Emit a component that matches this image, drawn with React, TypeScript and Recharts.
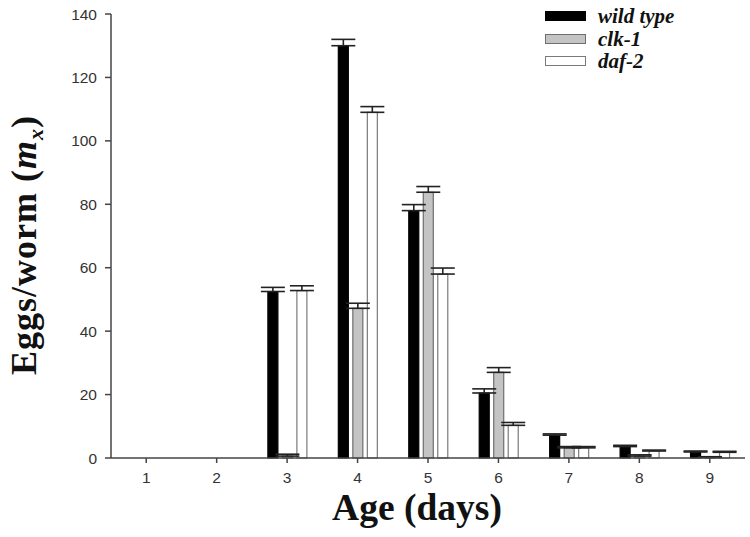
import React from 'react';
import { BarChart, Bar, XAxis, YAxis, ErrorBar } from 'recharts';

const days = ['1', '2', '3', '4', '5', '6', '7', '8', '9'];
const wildType = [0, 0, 52.5, 130, 78, 20.5, 7.2, 3.6, 1.9];
const wildTypeErr = [0, 0, 1.3, 2, 1.9, 1.3, 0.4, 0.4, 0.3];
const clk1 = [0, 0, 0.6, 47.2, 83.8, 27, 3.2, 0.6, 0.2];
const clk1Err = [0, 0, 0.6, 1.6, 1.8, 1.5, 0.4, 0.4, 0.2];
const daf2 = [0, 0, 52.8, 109, 58, 10.3, 3.2, 2.2, 1.8];
const daf2Err = [0, 0, 1.5, 1.8, 1.9, 0.9, 0.4, 0.3, 0.3];
const yTicks = [0, 20, 40, 60, 80, 100, 120, 140];

const seriesNames = ['wild type', 'clk-1', 'daf-2'];
const fills = ['#000000', '#c4c4c4', '#ffffff'];
const strokes = ['#000000', '#6e6e6e', '#7a7a7a'];

const data = days.map((d, i) => ({
  day: d,
  wt: wildType[i],
  wtErr: [0, wildTypeErr[i]],
  clk: clk1[i],
  clkErr: [0, clk1Err[i]],
  daf: daf2[i],
  dafErr: [0, daf2Err[i]],
}));

const axisColor = '#444';
const tickStyle = { fontFamily: 'Liberation Sans, Arial, sans-serif', fontSize: 15.5, fill: '#333' };

const YLabel = () => (
  <text
    transform="translate(36,245) rotate(-90)"
    textAnchor="middle"
    fontFamily="Liberation Serif, Times New Roman, serif"
    fontWeight="bold"
    fontSize={36}
    letterSpacing={1}
    fill="#111"
  >
    Eggs/worm (<tspan fontStyle="italic">m</tspan>
    <tspan fontStyle="italic" fontSize={22} dy={7}>x</tspan>
    <tspan dy={-7}>)</tspan>
  </text>
);

const XLabel = () => (
  <text
    x={417}
    y={520}
    textAnchor="middle"
    fontFamily="Liberation Serif, Times New Roman, serif"
    fontWeight="bold"
    fontSize={37.5}
    fill="#111"
  >
    Age (days)
  </text>
);

const LegendBox = () => (
  <div style={{ position: 'absolute', left: 545, top: 5 }}>
    {seriesNames.map((n, i) => (
      <div key={n} style={{ display: 'flex', alignItems: 'center', height: 22.5 }}>
        <div
          style={{
            width: 39,
            height: 8,
            background: fills[i],
            border: `1.5px solid ${strokes[i]}`,
            marginRight: 12,
          }}
        />
        <span
          style={{
            fontFamily: 'Liberation Serif, Times New Roman, serif',
            fontWeight: 'bold',
            fontStyle: 'italic',
            fontSize: 21,
            color: '#111',
            lineHeight: '20px',
          }}
        >
          {n}
        </span>
      </div>
    ))}
  </div>
);

export default function App() {
  return (
    <div style={{ position: 'absolute', left: 0, top: 0, width: 750, height: 537, background: '#fff' }}>
      <BarChart
        width={750}
        height={537}
        data={data}
        margin={{ top: 14, right: 5, bottom: 49, left: 0 }}
        barSize={10}
        barGap={4.5}
      >
        <XAxis
          dataKey="day"
          stroke={axisColor}
          strokeWidth={1.5}
          tickSize={5}
          tickMargin={9}
          tick={tickStyle}
          label={<XLabel />}
        />
        <YAxis
          width={111}
          domain={[0, 140]}
          ticks={yTicks}
          stroke={axisColor}
          strokeWidth={1.5}
          tickSize={6}
          tickMargin={8}
          tick={tickStyle}
          label={<YLabel />}
        />
        <Bar dataKey="wt" name="wild type" fill={fills[0]} stroke={strokes[0]} strokeWidth={1.2} isAnimationActive={false}>
          <ErrorBar dataKey="wtErr" width={12} stroke="#222" strokeWidth={1.6} direction="y" />
        </Bar>
        <Bar dataKey="clk" name="clk-1" fill={fills[1]} stroke={strokes[1]} strokeWidth={1.2} isAnimationActive={false}>
          <ErrorBar dataKey="clkErr" width={12} stroke="#222" strokeWidth={1.6} direction="y" />
        </Bar>
        <Bar dataKey="daf" name="daf-2" fill={fills[2]} stroke={strokes[2]} strokeWidth={1.2} isAnimationActive={false}>
          <ErrorBar dataKey="dafErr" width={12} stroke="#222" strokeWidth={1.6} direction="y" />
        </Bar>
      </BarChart>
      <LegendBox />
    </div>
  );
}
